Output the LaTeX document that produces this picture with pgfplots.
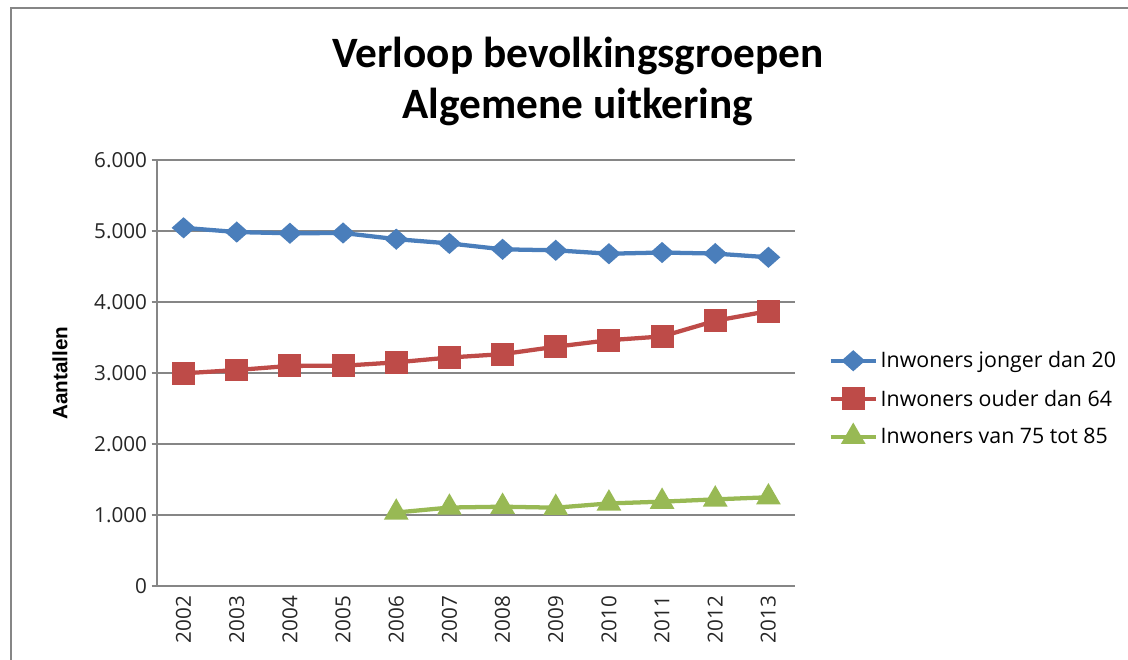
\documentclass[border=0pt]{standalone}
\usepackage{pgfplots}
\pgfplotsset{compat=1.18}
\usepackage{fontspec}
\setmainfont{Open Sans}
\newfontfamily\titlefont{Carlito}
\newfontfamily\labelfont{Liberation Sans}
\definecolor{xblue}{HTML}{4A7EBB}
\definecolor{xred}{HTML}{BE4B48}
\definecolor{xgreen}{HTML}{98B954}
\definecolor{xgrid}{HTML}{868686}
\begin{document}
\begin{tikzpicture}
\useasboundingbox (0,0) rectangle (846pt,495pt);
\draw[xgrid, line width=1.5pt] (8.25pt,0pt) -- (8.25pt,489pt) -- (846pt,489pt);
\node[align=center, font=\titlefont\bfseries\fontsize{32.5}{38}\selectfont] at (433.5pt,434pt)
  {Verloop bevolkingsgroepen\\ Algemene uitkering};
\begin{axis}[
  at={(117.75pt,55.5pt)}, anchor=south west,
  scale only axis, width=478.5pt, height=319.5pt,
  xmin=2001.5, xmax=2013.5, ymin=0, ymax=6000,
  xtick={2002,...,2013},
  xticklabels={2002,2003,2004,2005,2006,2007,2008,2009,2010,2011,2012,2013},
  x tick label style={rotate=90, anchor=east, font=\fontsize{15.5}{18}\selectfont, text=black!85},
  ytick={0,1000,...,6000},
  y tick label style={font=\fontsize{15.5}{18}\selectfont, text=black!85},
  /pgf/number format/1000 sep={.},
  /pgf/number format/assume math mode=true,
  ymajorgrids, grid style={xgrid, line width=1pt},
  axis line style={xgrid, line width=1pt},
  axis x line*=bottom, axis y line*=left,
  major tick length=4pt, tick style={xgrid, line width=1pt},
  xtick style={draw=none},
  tick align=outside,
  ylabel={Aantallen},
  ylabel style={at={(axis description cs:-0.152,0.5)}, anchor=center, font=\labelfont\bfseries\fontsize{15.5}{18}\selectfont},
  legend style={at={(axis description cs:1.052,0.44)}, anchor=west, draw=none, fill=none,
    font=\fontsize{16}{18}\selectfont, row sep=11pt, inner sep=0pt},
  legend cell align=left,
  legend image code/.code={\draw[#1, mark repeat=2, mark phase=2] plot coordinates {(0pt,0pt) (17pt,0pt) (34pt,0pt)};},
]
\addplot[xblue, line width=3.2pt, mark=diamond*, mark size=5.8pt, mark options={xscale=1.5, solid, fill=xblue}] coordinates {
(2002,5045) (2003,4985) (2004,4968) (2005,4972) (2006,4885) (2007,4825)
(2008,4742) (2009,4728) (2010,4680) (2011,4697) (2012,4682) (2013,4630)};
\addlegendentry{Inwoners jonger dan 20}
\addplot[xred, line width=3.2pt, mark=square*, mark size=7pt, mark options={solid, fill=xred}] coordinates {
(2002,2995) (2003,3042) (2004,3100) (2005,3102) (2006,3150) (2007,3218)
(2008,3266) (2009,3370) (2010,3462) (2011,3515) (2012,3735) (2013,3872)};
\addlegendentry{Inwoners ouder dan 64}
\addplot[xgreen, line width=3.2pt, mark=triangle*, mark size=7.5pt, mark options={solid, fill=xgreen}] coordinates {
(2006,1035) (2007,1105) (2008,1117) (2009,1103) (2010,1163) (2011,1188) (2012,1220) (2013,1250)};
\addlegendentry{Inwoners van 75 tot 85}
\end{axis}
\end{tikzpicture}
\end{document}
